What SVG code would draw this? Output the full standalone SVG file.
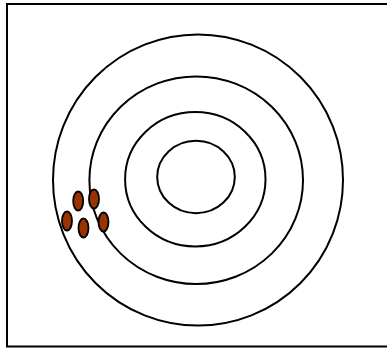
<svg xmlns="http://www.w3.org/2000/svg" width="387" height="351" viewBox="0 0 387 351">
<style>
.ring{fill:none;stroke:#000;stroke-width:2}
.dot{fill:#993300;stroke:#000;stroke-width:1.8}
</style>
<rect x="0" y="0" width="387" height="351" fill="#fff"/>
<rect x="7" y="4" width="390" height="342.5" fill="none" stroke="#000" stroke-width="2"/>
<g id="target">
<ellipse class="ring" cx="198" cy="180" rx="145" ry="145.6"/>
<ellipse class="ring" cx="196.2" cy="180.2" rx="106.8" ry="103.8"/>
<ellipse class="ring" cx="195.3" cy="179.3" rx="70.2" ry="67.2"/>
<ellipse class="ring" cx="196" cy="177" rx="38.8" ry="36.2"/>
</g>
<g id="shots">
<ellipse class="dot" cx="78.2" cy="201" rx="5" ry="9.5"/>
<ellipse class="dot" cx="94" cy="199" rx="5" ry="9.5"/>
<ellipse class="dot" cx="67" cy="221" rx="5" ry="9.5"/>
<ellipse class="dot" cx="83.5" cy="228" rx="5" ry="9.5"/>
<ellipse class="dot" cx="103.5" cy="222" rx="5" ry="9.5"/>
</g>
</svg>
